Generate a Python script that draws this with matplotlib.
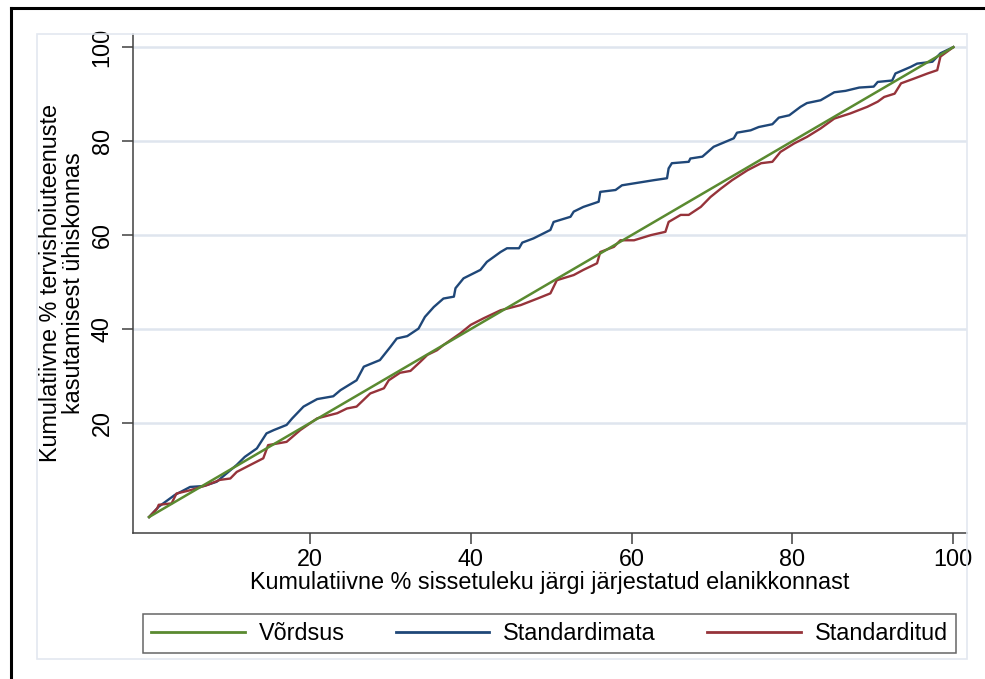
"""
Kontsentratsioonikõver: tervishoiuteenuste kasutamine sissetuleku järgi
"""
import matplotlib
matplotlib.use("Agg")
import matplotlib.pyplot as plt
from matplotlib.lines import Line2D
from matplotlib.patches import Rectangle

# andmed (loetud jooniselt)
vordsus_x = [0, 100]
vordsus_y = [0, 100]

standardimata_x = [0, 1.2, 3.2, 5.1, 6.8, 8.4, 10.9, 11.9, 13.4, 14.6, 15.5, 17.1, 17.8,
                   19.2, 20.9, 22.9, 23.8, 25.8, 26.7, 28.7, 30.0, 30.8, 32.1, 33.5, 34.3,
                   35.4, 36.6, 37.9, 38.1, 39.1, 41.2, 42.0, 43.7, 44.5, 46.0, 46.4, 47.8,
                   49.9, 50.3, 52.4, 52.8, 54.0, 55.9, 56.1, 58.0, 58.8, 62.8, 64.4, 64.6,
                   65.0, 67.1, 67.3, 68.8, 70.2, 72.7, 73.1, 74.8, 75.8, 77.5, 78.3, 79.6,
                   81.0, 81.8, 83.5, 85.2, 86.6, 88.3, 90.1, 90.6, 92.4, 92.8, 94.7, 95.5,
                   97.4, 98.4, 100]
standardimata_y = [0, 2.2, 4.7, 6.4, 6.6, 7.5, 11.1, 12.8, 14.6, 17.8, 18.5, 19.6, 21.0,
                   23.5, 25.1, 25.7, 27.0, 29.1, 32.0, 33.4, 36.2, 38.0, 38.5, 40.1, 42.6,
                   44.7, 46.5, 46.9, 48.7, 50.8, 52.6, 54.3, 56.4, 57.2, 57.2, 58.4, 59.3,
                   61.1, 62.8, 63.9, 65.0, 66.0, 67.1, 69.2, 69.6, 70.6, 71.7, 72.1, 74.2,
                   75.3, 75.6, 76.3, 76.7, 78.8, 80.6, 81.8, 82.3, 83.0, 83.6, 85.0, 85.5,
                   87.3, 88.1, 88.7, 90.4, 90.7, 91.4, 91.6, 92.6, 92.9, 94.4, 95.8, 96.5,
                   96.9, 98.7, 100]

standarditud_x = [0, 1.0, 1.2, 2.8, 3.4, 5.1, 7.2, 8.8, 10.1, 10.9, 12.6, 14.2, 14.8, 17.1,
                  18.8, 20.9, 23.4, 24.6, 25.8, 27.5, 29.2, 29.8, 31.2, 32.5, 33.7, 34.6,
                  35.8, 36.6, 38.7, 40.0, 41.6, 43.7, 46.2, 48.3, 49.9, 50.7, 52.8, 54.0,
                  55.7, 56.1, 57.8, 58.6, 60.3, 62.4, 64.2, 64.6, 66.1, 67.1, 68.6, 69.8,
                  71.1, 72.5, 74.4, 76.1, 77.5, 78.5, 80.2, 81.8, 83.5, 85.2, 87.2, 89.3,
                  90.6, 91.4, 92.7, 93.5, 95.1, 96.8, 98.0, 98.4, 100]
standarditud_y = [0, 1.8, 2.6, 2.9, 5.0, 5.7, 6.8, 7.9, 8.2, 9.6, 11.1, 12.5, 15.3, 16.0,
                  18.5, 21.0, 22.1, 23.1, 23.5, 26.3, 27.4, 29.1, 30.7, 31.1, 33.0, 34.5,
                  35.5, 36.6, 39.1, 40.9, 42.3, 44.0, 45.1, 46.5, 47.6, 50.4, 51.5, 52.6,
                  54.0, 56.4, 57.5, 58.9, 58.9, 60.0, 60.7, 62.8, 64.3, 64.3, 66.0, 68.1,
                  69.9, 71.7, 73.8, 75.3, 75.6, 77.7, 79.5, 80.9, 82.7, 84.8, 85.9, 87.3,
                  88.4, 89.4, 90.1, 92.3, 93.3, 94.4, 95.1, 98.0, 100]

x_ticks = [20, 40, 60, 80, 100]
y_ticks = [20, 40, 60, 80, 100]

# värvid (Stata s2color laadis)
GREEN = '#5a8a30'
NAVY = '#1f4778'
MAROON = '#96333a'
GRID = '#dfe5ee'
AXIS = '#404040'

plt.rcParams['font.family'] = ['Liberation Sans', 'DejaVu Sans']
plt.rcParams['font.size'] = 16.8

W, H = 985, 679
fig = plt.figure(figsize=(W / 100, H / 100), dpi=100)
fig.patch.set_facecolor('white')

# välimine must raam (ainult vasak ja ülemine serv paistavad)
fig.add_artist(Line2D([11 / W, 11 / W], [0, 1 - 8 / H], color='black', lw=2.2,
                      transform=fig.transFigure))
fig.add_artist(Line2D([11 / W, 1], [1 - 8 / H, 1 - 8 / H], color='black', lw=2.2,
                      transform=fig.transFigure))

# graafiku piirkonna hele raam
fig.add_artist(Rectangle((37 / W, 1 - 659 / H), (967 - 37) / W, (659 - 34) / H,
                         transform=fig.transFigure, fill=False, edgecolor='#e3e8f0', lw=1.2))

ax = fig.add_axes([133 / W, 1 - 533 / H, (967 - 133) / W, (533 - 34) / H])
ax.set_facecolor('white')

# kõverad
l_blue, = ax.plot(standardimata_x, standardimata_y, color=NAVY, lw=1.7, label='Standardimata', zorder=3)
l_red, = ax.plot(standarditud_x, standarditud_y, color=MAROON, lw=1.7, label='Standarditud', zorder=4)
l_green, = ax.plot(vordsus_x, vordsus_y, color=GREEN, lw=1.8, label='Võrdsus', zorder=5)

ax.set_xlim(-2.0, 101.7)
ax.set_ylim(-3.4, 102.8)
ax.set_xticks(x_ticks)
ax.set_yticks(y_ticks)
ax.set_yticklabels([str(v) for v in y_ticks], rotation=90, va='center')

ax.grid(axis='y', color=GRID, lw=1.8)
ax.set_axisbelow(True)

for side in ['top', 'right']:
    ax.spines[side].set_visible(False)
for side in ['left', 'bottom']:
    ax.spines[side].set_color(AXIS)
    ax.spines[side].set_linewidth(1.1)

ax.tick_params(axis='both', direction='out', length=8, width=1.1, color=AXIS, labelcolor='black')
ax.tick_params(axis='x', pad=3)
ax.tick_params(axis='y', pad=6)

ax.set_xlabel('Kumulatiivne % sissetuleku järgi järjestatud elanikkonnast', labelpad=0)
ax.set_ylabel('Kumulatiivne % tervishoiuteenuste\nkasutamisest ühiskonnas', labelpad=4,
              linespacing=1.0)

# legend kolmes veerus
leg = fig.legend(handles=[l_green, l_blue, l_red], loc='lower left', ncol=3, mode='expand',
                 bbox_to_anchor=(143 / W, 1 - 653 / H, (956 - 143) / W, (653 - 609) / H),
                 bbox_transform=fig.transFigure, borderaxespad=0, fancybox=False,
                 handlelength=4.0, handletextpad=0.6, borderpad=0.35)
leg.get_frame().set_edgecolor(AXIS)
leg.get_frame().set_linewidth(1.1)
for line in leg.get_lines():
    line.set_linewidth(2.0)

plt.savefig('out.png', dpi=100)
plt.close()
